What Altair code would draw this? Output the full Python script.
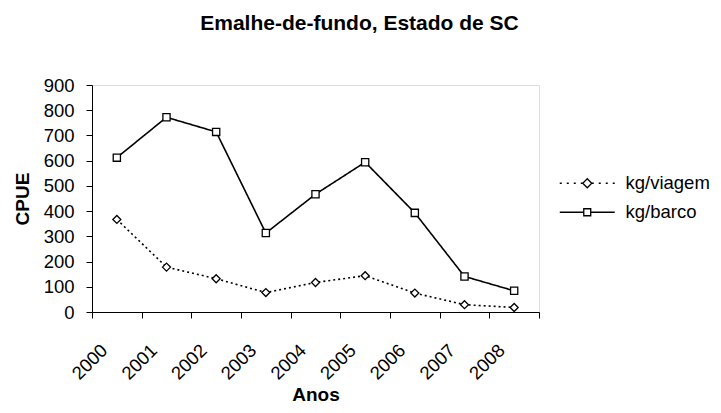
import altair as alt
import pandas as pd

years = ["2000", "2001", "2002", "2003", "2004", "2005", "2006", "2007", "2008"]
kg_viagem = [367, 178, 132, 77, 117, 144, 75, 29, 18]
kg_barco = [612, 772, 714, 313, 467, 594, 393, 141, 84]
series_names = ["kg/viagem", "kg/barco"]

rows = []
for name, vals in zip(series_names, [kg_viagem, kg_barco]):
    for y, v in zip(years, vals):
        rows.append({"Ano": y, "CPUE": v, "serie": name})
df = pd.DataFrame(rows)

FONT = "Liberation Sans"

x_enc = alt.X(
    "Ano:O",
    scale=alt.Scale(type="band", paddingInner=0, paddingOuter=0),
    bandPosition=0.5,
    title="Anos",
    axis=alt.Axis(
        tickBand="extent",
        labelAngle=-45,
        labelAlign="right",
        labelBaseline="middle",
        labelPadding=29,
        labelOffset=-13,
        labelFontSize=18.5,
        labelFont=FONT,
        labelColor="black",
        titleFont=FONT,
        titleFontSize=19,
        titleFontWeight="bold",
        titleColor="black",
        titlePadding=3,
        domainColor="black",
        tickColor="black",
        tickSize=6,
        grid=False,
    ),
)
y_enc = alt.Y(
    "CPUE:Q",
    scale=alt.Scale(domain=[0, 900], nice=False),
    title="CPUE",
    axis=alt.Axis(
        values=list(range(0, 901, 100)),
        labelFontSize=18.5,
        labelFont=FONT,
        labelColor="black",
        labelPadding=12,
        titleFont=FONT,
        titleFontSize=19,
        titleFontWeight="bold",
        titleColor="black",
        titlePadding=11,
        domainColor="black",
        tickColor="black",
        tickSize=6,
        grid=False,
    ),
)

# legend symbol paths (size 144 -> 6px per unit)
legend_line_paths = [
    "M-4.58,0L-0.75,0M0.75,0L4.58,0",
    "M-4.58,0L-0.58,0M0.58,0L4.58,0",
]
legend_marker_paths = [
    "M0,-0.75L0.75,0L0,0.75L-0.75,0Z",
    "M-0.58,-0.58L0.58,-0.58L0.58,0.58L-0.58,0.58Z",
]

lines = alt.Chart(df).mark_line(color="black", strokeWidth=1.6).encode(
    x=x_enc,
    y=y_enc,
    strokeDash=alt.StrokeDash(
        "serie:N",
        scale=alt.Scale(domain=series_names, range=[[2, 3], [1, 0]]),
        legend=None,
    ),
)

points = alt.Chart(df).mark_point(
    filled=True, fill="white", stroke="black", strokeWidth=1.3, opacity=1
).encode(
    x=x_enc,
    y=y_enc,
    shape=alt.Shape(
        "serie:N",
        scale=alt.Scale(domain=series_names, range=["diamond", "square"]),
        legend=None,
    ),
    size=alt.Size(
        "serie:N",
        scale=alt.Scale(domain=series_names, range=[64, 52]),
        legend=None,
    ),
)

LX, LY = 486, 89

legend_lines_cfg = alt.Legend(
    title=None,
    orient="none",
    legendX=LX,
    legendY=LY,
    symbolSize=144,
    symbolStrokeColor="black",
    symbolStrokeWidth=1.6,
    labelFont=FONT,
    labelFontSize=18.5,
    labelColor="black",
    rowPadding=10,
    labelOffset=29,
    zindex=1,
)
legend_marker_cfg = alt.Legend(
    title=None,
    orient="none",
    legendX=LX,
    legendY=LY,
    symbolSize=144,
    symbolStrokeColor="black",
    symbolStrokeWidth=1.3,
    labelFont=FONT,
    labelFontSize=18.5,
    labelColor="white",
    labelOpacity=0,
    rowPadding=10,
    labelOffset=29,
    zindex=2,
)

legend_lines_layer = (
    alt.Chart(df)
    .transform_filter("datum.CPUE < 0")
    .mark_point(filled=False, color="black", strokeWidth=1.6, opacity=1)
    .encode(
        shape=alt.Shape(
            "serie:N",
            scale=alt.Scale(domain=series_names, range=legend_line_paths),
            legend=legend_lines_cfg,
        ),
        strokeDash=alt.StrokeDash(
            "serie:N",
            scale=alt.Scale(domain=series_names, range=[[2, 5], [1, 0]]),
            legend=legend_lines_cfg,
        ),
    )
)

legend_marker_layer = (
    alt.Chart(df)
    .transform_filter("datum.CPUE < 0")
    .mark_point(filled=False, color="black", strokeWidth=1.3, opacity=1)
    .encode(
        shape=alt.Shape(
            "serie2:N",
            scale=alt.Scale(domain=series_names, range=legend_marker_paths),
            legend=legend_marker_cfg,
        ),
    )
    .transform_calculate(serie2="datum.serie")
)

chart = (
    alt.layer(lines, points, legend_lines_layer, legend_marker_layer)
    .resolve_scale(shape="independent", strokeDash="independent", size="independent")
    .resolve_legend(shape="independent", strokeDash="independent", size="independent")
    .properties(
        width=447,
        height=227,
        title=alt.TitleParams(
            "Emalhe-de-fundo, Estado de SC",
            font=FONT,
            fontSize=21,
            fontWeight="bold",
            color="black",
            anchor="middle",
            dx=44,
            offset=42,
        ),
        autosize=alt.AutoSizeParams(type="none"),
        padding={"left": 84, "top": 77, "right": 174, "bottom": 93},
    )
    .configure_view(stroke=None)
    .configure(background="white")
)

chart.save("out.html", embed_options={"renderer": "svg", "actions": False})
